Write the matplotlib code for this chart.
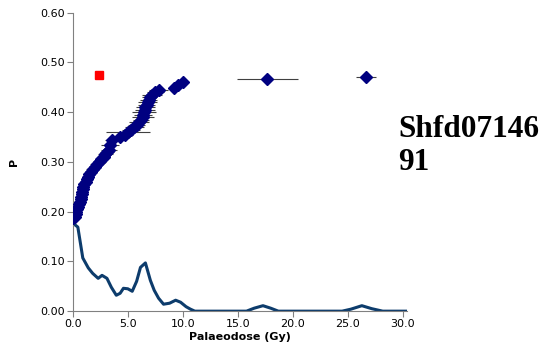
import numpy as np
import matplotlib
matplotlib.use("Agg")
import matplotlib.pyplot as plt
from matplotlib.ticker import FormatStrFormatter

# aliquot palaeodoses (Gy), cumulative P and dose errors
dose = [0.05, 0.15, 0.25, 0.3, 0.35, 0.45, 0.55, 0.65, 0.7, 0.75, 0.8, 0.85,
        0.9, 0.95, 1.05, 1.15, 1.25, 1.4, 1.5, 1.65, 1.8, 2.0, 2.2, 2.4, 2.6,
        2.8, 2.95, 3.1, 3.3, 3.4, 3.6, 4.3, 4.7, 5.0, 5.3, 5.6, 5.8, 6.0, 6.2,
        6.35, 6.4, 6.5, 6.55, 6.6, 6.7, 6.8, 6.9, 7.0, 7.2, 7.5, 7.8, 9.2,
        9.6, 10.0, 17.7, 26.7]
p_val = [0.187, 0.19, 0.195, 0.20, 0.205, 0.21, 0.215, 0.22, 0.225, 0.23,
         0.235, 0.24, 0.245, 0.25, 0.255, 0.26, 0.265, 0.27, 0.275, 0.28,
         0.285, 0.29, 0.295, 0.30, 0.305, 0.31, 0.315, 0.32, 0.325, 0.335,
         0.344, 0.35, 0.355, 0.36, 0.365, 0.37, 0.375, 0.38, 0.385, 0.39,
         0.395, 0.40, 0.405, 0.41, 0.415, 0.42, 0.425, 0.43, 0.435, 0.44,
         0.445, 0.448, 0.455, 0.46, 0.467, 0.471]
dose_err = [0.15, 0.2, 0.2, 0.25, 0.2, 0.25, 0.3, 0.3, 0.3, 0.35, 0.3, 0.35,
            0.4, 0.35, 0.4, 0.45, 0.4, 0.5, 0.45, 0.5, 0.6, 0.55, 0.6, 0.6,
            0.55, 0.6, 0.7, 0.6, 0.7, 0.8, 0.7, 0.9, 0.8, 2.0, 0.8, 0.9, 0.8,
            0.9, 0.7, 1.0, 0.8, 1.1, 0.9, 0.9, 0.8, 0.9, 0.8, 0.7, 0.9, 0.8,
            0.9, 0.5, 0.4, 0.4, 2.8, 0.9]

# outlier / reference point
ref_dose = [2.4]
ref_p = [0.475]

# probability density curve
pdf_x = [0.0, 0.45, 0.9, 1.4, 1.8, 2.3, 2.65, 3.1, 3.5, 3.95, 4.3, 4.6, 5.0,
         5.4, 5.8, 6.15, 6.6, 7.05, 7.4, 7.8, 8.25, 8.8, 9.35, 9.8, 10.3,
         10.7, 11.1, 15.8, 16.5, 17.3, 18.0, 18.7, 24.5, 25.3, 26.3, 27.2,
         28.2, 30.4]
pdf_y = [0.177, 0.169, 0.107, 0.087, 0.076, 0.066, 0.072, 0.066, 0.048,
         0.032, 0.036, 0.046, 0.045, 0.040, 0.060, 0.088, 0.097, 0.062, 0.042,
         0.026, 0.014, 0.016, 0.022, 0.018, 0.009, 0.004, 0.0, 0.0, 0.006,
         0.011, 0.006, 0.0, 0.0, 0.004, 0.011, 0.005, 0.0, 0.0]

fig = plt.figure(figsize=(5.44, 3.54), dpi=100)
ax = fig.add_axes([0.134, 0.121, 0.614, 0.843])

ax.plot(pdf_x, pdf_y, color="#0d3c6c", lw=2.2, zorder=2)
ax.errorbar(dose, p_val, xerr=dose_err, fmt="D", color="#000080", ms=6,
            ecolor="#404040", elinewidth=0.8, capsize=0, zorder=3)
ax.plot(ref_dose, ref_p, "s", color="#ff0000", ms=5.5, zorder=4)

ax.set_xlim(0, 30.4)
ax.set_ylim(0, 0.6)
ax.set_xticks(np.arange(0, 31, 5))
ax.set_yticks(np.arange(0, 0.61, 0.1))
ax.xaxis.set_major_formatter(FormatStrFormatter("%.1f"))
ax.yaxis.set_major_formatter(FormatStrFormatter("%.2f"))

for s in ["top", "right"]:
    ax.spines[s].set_visible(False)
for s in ["left", "bottom"]:
    ax.spines[s].set_color("#808080")
ax.tick_params(direction="out", length=4, color="#808080", labelsize=8,
               pad=2)

ax.set_xlabel("Palaeodose (Gy)", fontsize=8, fontweight="bold", labelpad=2)
ax.set_ylabel("P", fontsize=8, fontweight="bold", labelpad=15)

fig.text(398 / 544, 1 - 170 / 354, "Shfd07146\n91", family="Liberation Serif",
         fontsize=22.5, fontweight="bold", va="baseline", ha="left",
         linespacing=1.2)

fig.savefig("out.png", dpi=100)
